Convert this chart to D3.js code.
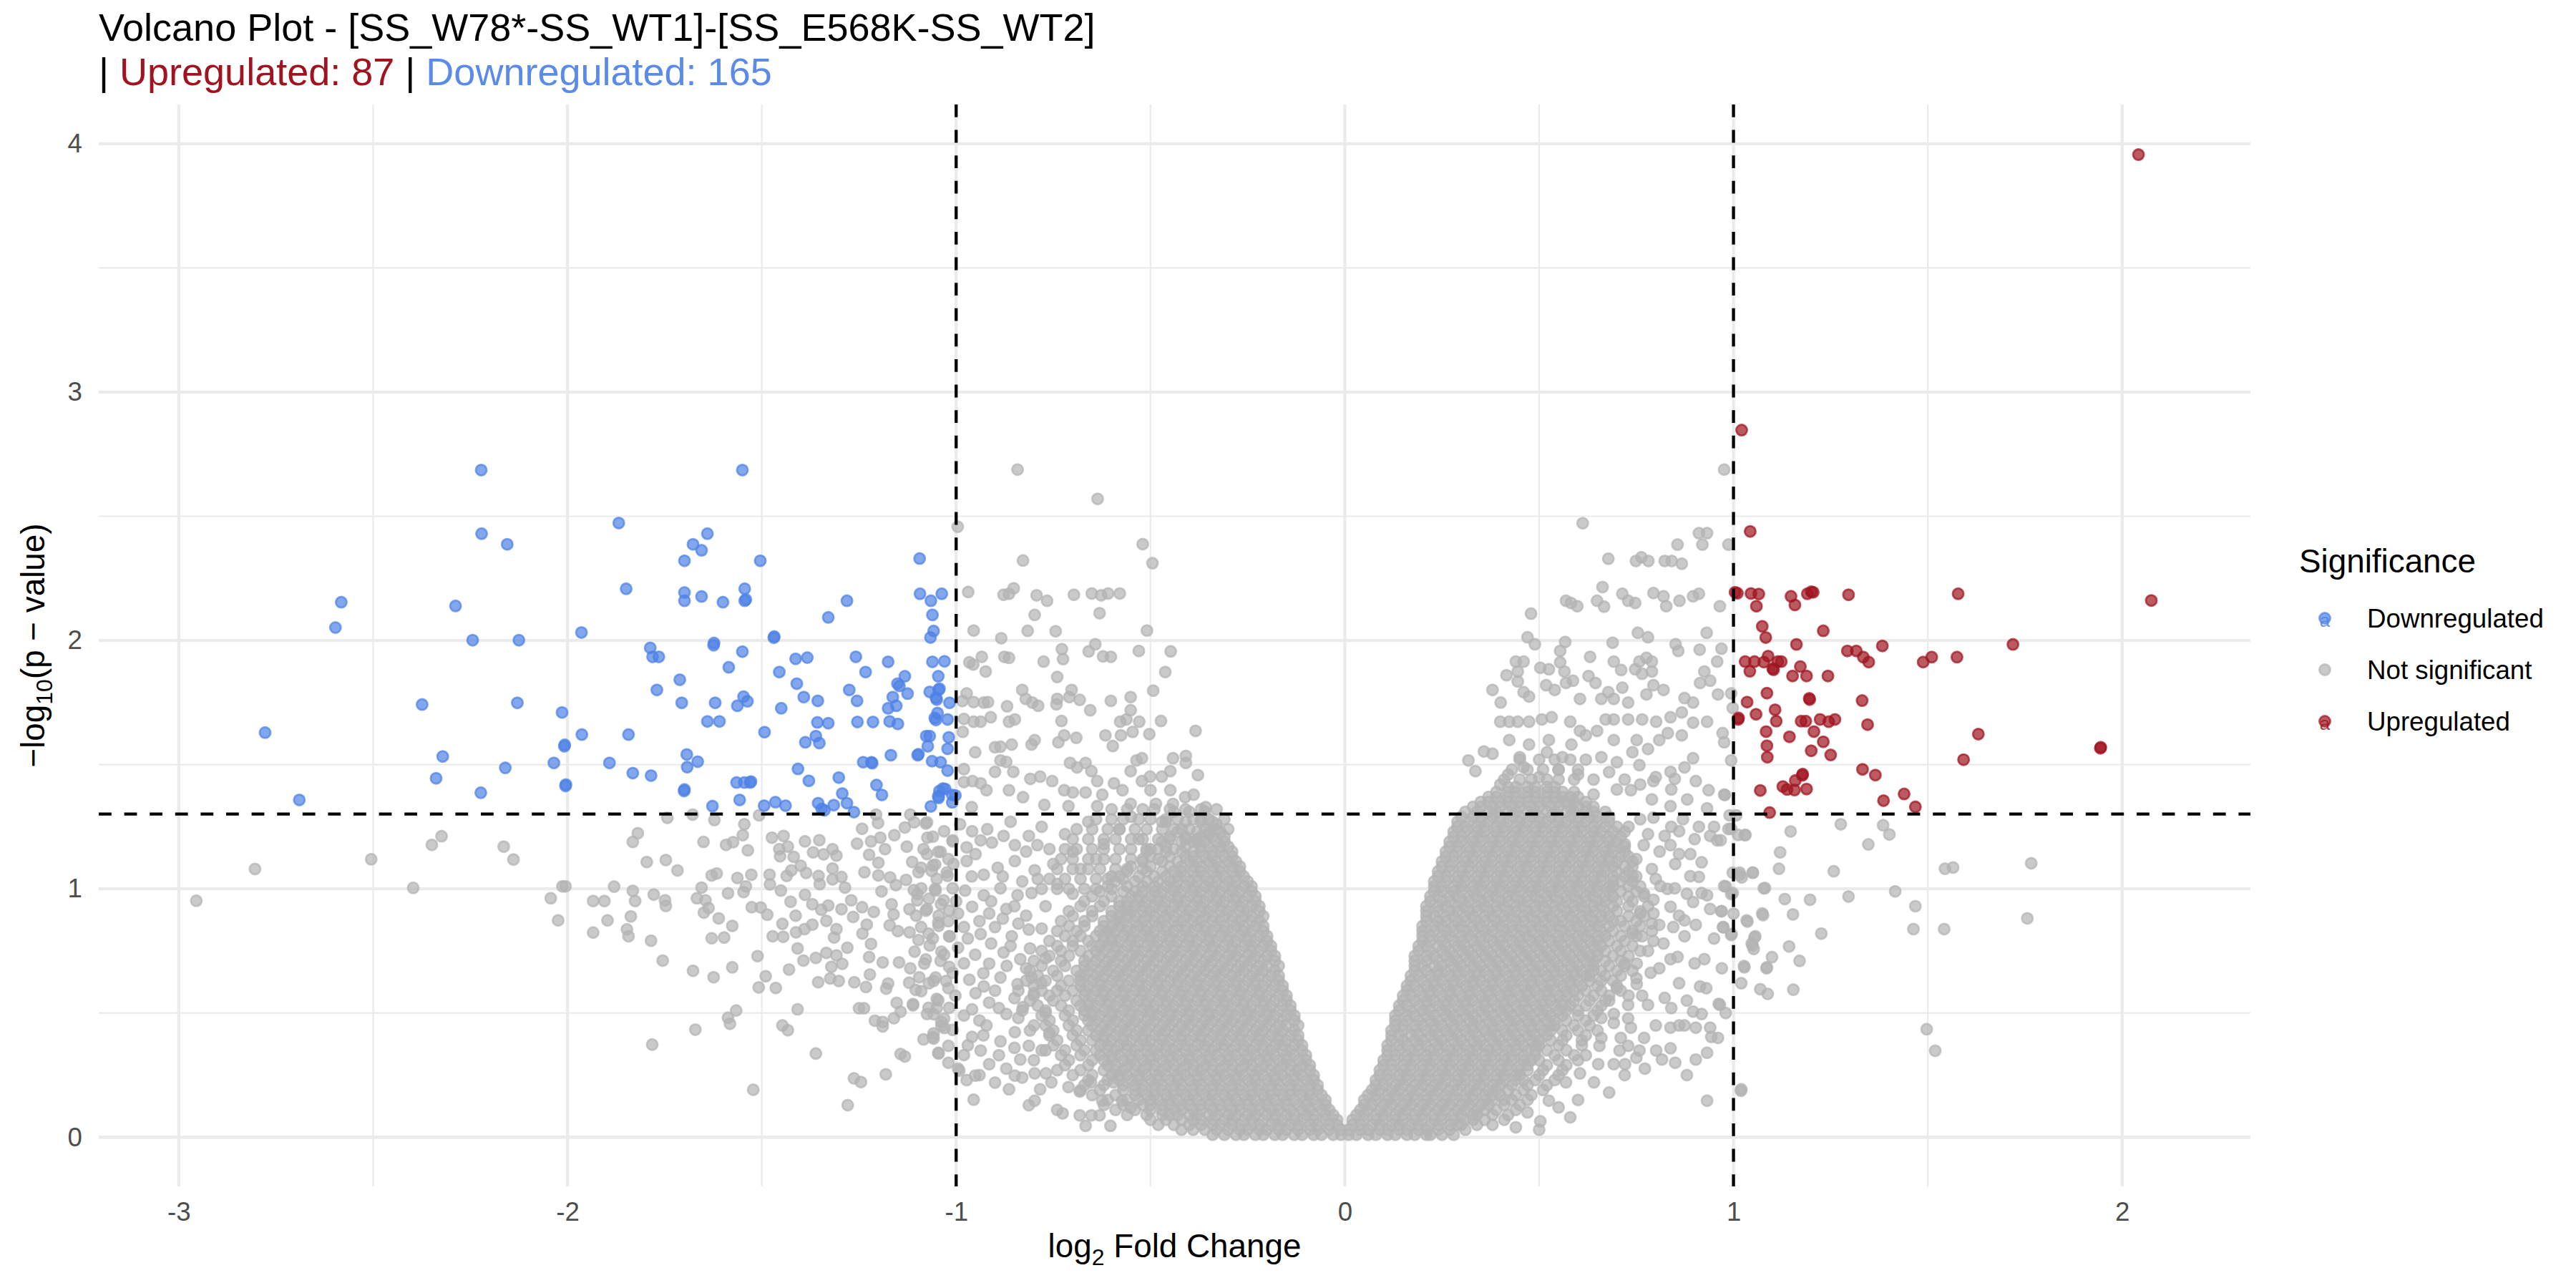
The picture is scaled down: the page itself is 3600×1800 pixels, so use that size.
<!DOCTYPE html>
<html><head><meta charset="utf-8">
<script src="https://cdn.jsdelivr.net/npm/d3@7"></script>
<style>
body{margin:0;background:#fff}
svg{display:block}
text{font-family:"Liberation Sans",Arial,Helvetica,sans-serif}
</style>
</head><body>
<svg id="chart" width="3600" height="1800"></svg>
<script>
// ---------------- DATA ----------------
const xTicks = [-3, -2, -1, 0, 1, 2];
const xTickLabels = ["-3", "-2", "-1", "0", "1", "2"];
const xMinor = [-2.5, -1.5, -0.5, 0.5, 1.5];
const yTicks = [0, 1, 2, 3, 4];
const yTickLabels = ["0", "1", "2", "3", "4"];
const yMinor = [0.5, 1.5, 2.5, 3.5];
const fcThresholds = [-1, 1];
const pThreshold = 1.30103; // -log10(0.05)
const categories = ["Downregulated", "Not significant", "Upregulated"];
const counts = {up: 87, down: 165};

// [log2FC, -log10 p]
const downregulated = [[-2.222,2.686],[-1.550,2.686],[-1.868,2.473],[-2.221,2.430],[-2.155,2.387],[-1.640,2.430],[-1.677,2.387],[-1.655,2.363],[-1.699,2.321],[-1.504,2.321],[-1.094,2.330],[-1.849,2.208],[-1.699,2.193],[-1.699,2.160],[-1.655,2.177],[-1.600,2.154],[-1.544,2.208],[-1.544,2.160],[-1.541,2.165],[-1.093,2.188],[-1.037,2.188],[-1.065,2.160],[-1.061,2.103],[-1.058,2.038],[-1.066,2.012],[-1.281,2.160],[-1.329,2.093],[-2.582,2.154],[-2.597,2.052],[-2.288,2.139],[-2.244,2.001],[-2.125,2.001],[-1.964,2.032],[-1.469,2.011],[-1.468,2.016],[-1.624,1.981],[-1.623,1.990],[-1.787,1.970],[-1.781,1.934],[-1.765,1.934],[-1.550,1.955],[-1.585,1.892],[-1.413,1.926],[-1.383,1.931],[-1.258,1.934],[-1.175,1.914],[-1.061,1.914],[-1.030,1.916],[-1.455,1.873],[-1.233,1.873],[-1.132,1.856],[-1.046,1.856],[-1.711,1.842],[-1.410,1.826],[-1.151,1.826],[-1.146,1.817],[-1.770,1.801],[-1.275,1.801],[-1.125,1.786],[-1.068,1.793],[-1.045,1.801],[-1.043,1.806],[-1.052,1.770],[-1.050,1.762],[-1.392,1.772],[-1.163,1.772],[-1.547,1.774],[-1.537,1.755],[-1.563,1.737],[-1.706,1.749],[-1.620,1.749],[-1.356,1.757],[-1.255,1.757],[-1.450,1.727],[-1.175,1.727],[-1.154,1.737],[-1.017,1.749],[-2.374,1.742],[-2.129,1.749],[-2.014,1.710],[-1.640,1.674],[-1.609,1.674],[-1.357,1.670],[-1.329,1.667],[-1.254,1.672],[-1.214,1.672],[-1.171,1.674],[-1.150,1.664],[-1.055,1.688],[-1.052,1.680],[-1.048,1.708],[-1.022,1.682],[-2.778,1.629],[-1.963,1.621],[-1.843,1.621],[-1.493,1.631],[-1.361,1.615],[-1.388,1.590],[-1.352,1.587],[-1.077,1.615],[-1.068,1.615],[-1.019,1.610],[-1.073,1.574],[-2.008,1.574],[-2.007,1.580],[-1.022,1.564],[-2.321,1.533],[-2.035,1.507],[-1.892,1.507],[-1.693,1.541],[-1.665,1.512],[-1.692,1.490],[-1.168,1.538],[-1.099,1.538],[-1.097,1.542],[-1.239,1.510],[-1.218,1.510],[-1.216,1.506],[-1.062,1.514],[-1.040,1.510],[-1.022,1.476],[-2.160,1.487],[-1.832,1.466],[-1.785,1.456],[-1.407,1.483],[-2.338,1.445],[-1.379,1.435],[-1.302,1.448],[-1.565,1.428],[-1.545,1.428],[-1.530,1.428],[-1.528,1.432],[-2.005,1.414],[-2.004,1.420],[-1.205,1.418],[-1.700,1.394],[-1.699,1.400],[-2.223,1.387],[-1.191,1.378],[-1.293,1.384],[-1.043,1.394],[-1.034,1.404],[-1.046,1.373],[-1.010,1.378],[-2.690,1.358],[-1.557,1.358],[-1.627,1.333],[-1.494,1.335],[-1.465,1.349],[-1.439,1.335],[-1.355,1.345],[-1.346,1.322],[-1.315,1.337],[-1.281,1.345],[-1.065,1.332],[-1.010,1.348],[-1.339,1.316],[-1.263,1.309],[-1.045,1.366],[-1.028,1.402],[-1.002,1.376]];

const upregulated = [[1.021,2.847],[1.043,2.439],[1.004,2.194],[1.010,2.190],[1.045,2.189],[1.065,2.187],[1.059,2.138],[1.148,2.178],[1.158,2.143],[1.190,2.188],[1.200,2.196],[1.205,2.194],[1.296,2.184],[1.578,2.188],[2.075,2.161],[1.074,2.057],[1.083,2.012],[1.231,2.039],[1.162,1.984],[1.293,1.958],[1.316,1.958],[1.334,1.933],[1.348,1.913],[1.383,1.978],[1.488,1.913],[1.510,1.933],[1.575,1.933],[1.719,1.984],[1.030,1.915],[1.054,1.915],[1.078,1.913],[1.089,1.937],[1.114,1.915],[1.123,1.915],[1.101,1.887],[1.103,1.882],[1.042,1.876],[1.172,1.895],[1.152,1.857],[1.188,1.857],[1.243,1.857],[1.086,1.788],[1.195,1.767],[1.196,1.762],[1.331,1.758],[1.035,1.752],[1.012,1.682],[1.013,1.688],[1.058,1.703],[1.107,1.721],[1.110,1.675],[1.174,1.675],[1.186,1.675],[1.223,1.682],[1.245,1.673],[1.261,1.682],[1.345,1.661],[1.084,1.633],[1.144,1.612],[1.207,1.633],[1.231,1.592],[1.630,1.623],[1.944,1.566],[1.945,1.570],[1.086,1.576],[1.200,1.556],[1.250,1.539],[1.087,1.530],[1.592,1.520],[1.332,1.481],[1.365,1.458],[1.177,1.457],[1.178,1.462],[1.159,1.436],[1.127,1.412],[1.138,1.400],[1.157,1.398],[1.188,1.402],[1.069,1.396],[1.439,1.382],[1.386,1.355],[1.468,1.330],[1.093,1.307],[2.042,3.956]];

// individually read not-significant points
const notSigSparse = [[-2.955,0.952],[-2.804,1.080],[-2.505,1.119],[-2.397,1.004],[-2.349,1.177],[-2.324,1.212],[-2.164,1.170],[-2.139,1.118],[-2.013,1.010],[-2.043,0.962],[-2.024,0.873],
[-1.832,1.189],[-1.819,1.224],[-1.796,1.108],[-1.747,1.116],[-1.717,1.074],[-1.743,1.286],[-1.678,1.299],[-1.622,1.277],[-1.650,1.189],[-1.592,1.177],[-1.574,1.188],[-1.549,1.216],[-1.545,1.260],[-1.536,1.155],[-1.507,1.296],[-2.005,1.010],[-1.934,0.951],[-1.905,0.951],[-1.880,1.009],[-1.832,0.992],[-1.826,0.951],[-1.778,0.977],[-1.749,0.954],[-1.747,0.931],[-1.897,0.873],[-1.837,0.889],[-1.847,0.837],[-1.843,0.809],[-1.934,0.824],[-1.785,0.791],[-1.755,0.711],[-1.677,0.670],[-1.624,0.644],[-1.576,0.684],[-1.511,0.729],[-1.655,1.005],[-1.667,0.962],[-1.645,0.954],[-1.637,0.923],[-1.649,0.904],[-1.611,0.881],[-1.576,0.851],[-1.629,0.801],[-1.597,0.804],[-1.629,1.054],[-1.616,1.062],[-1.563,1.044],[-1.527,1.057],[-1.587,0.982],[-1.547,0.987],[-1.541,1.010],[-1.526,0.926],[-1.503,0.925],[-1.486,0.896],[-1.566,0.510],[-1.587,0.481],[-1.582,0.457],[-1.671,0.433],[-1.782,0.373],[-1.522,0.191],[-1.490,0.648],[-1.508,0.603],[-1.464,0.601],[-1.430,0.675],[-1.408,0.515],[-1.447,0.450],[-1.433,0.431],[-1.361,0.337],[-1.263,0.237],[-1.245,0.222],[-1.181,0.253],[-1.279,0.129],[-1.143,0.335],[-1.132,0.325],[-0.992,0.268],
[-1.474,1.206],[-1.444,1.213],[-1.455,1.160],[-1.453,1.131],[-1.433,1.170],[-1.418,1.129],[-1.400,1.093],[-1.424,1.074],[-1.436,1.052],[-1.386,1.064],[-1.389,1.191],[-1.352,1.196],[-1.368,1.147],[-1.341,1.139],[-1.318,1.160],[-1.308,1.134],[-1.318,1.082],[-1.354,1.052],[-1.351,1.019],[-1.318,1.038],[-1.295,1.048],[-1.286,1.005],[-1.480,1.057],[-1.479,1.018],[-1.451,0.993],[-1.389,0.976],[-1.426,0.948],[-1.370,0.938],[-1.347,0.916],[-1.329,0.933],[-1.295,0.918],[-1.270,0.954],[-1.242,0.926],[-1.212,0.907],[-1.265,0.887],[-1.413,0.892],[-1.447,0.859],[-1.370,0.856],[-1.334,0.871],[-1.308,0.838],[-1.412,0.825],[-1.472,0.809],[-1.445,0.807],[-1.390,0.838],[-1.314,0.804],[-1.241,0.820],[-1.230,0.856],[-1.219,0.778],[-1.280,0.763],[-1.408,0.760],[-1.393,0.711],[-1.361,0.722],[-1.334,0.742],[-1.308,0.732],[-1.293,0.698],[-1.321,0.686],[-1.224,0.725],[-1.189,0.704],[-1.324,0.639],[-1.355,0.624],[-1.302,0.629],[-1.262,0.624],[-1.232,0.605],[-1.222,0.655],[-1.180,0.598],[-1.175,0.619],[-1.250,0.519],[-1.237,0.519],[-1.209,0.469],[-1.189,0.446],[-1.189,0.464],[-1.160,0.479],[-1.153,0.541],[-1.143,0.505],[-1.111,0.531],[-1.071,0.521],[-1.050,0.557],[-1.038,0.464],[-1.084,0.394],[-1.058,0.397],[-1.045,0.337],[-1.020,0.368],[-1.236,1.067],[-1.200,1.054],[-1.192,0.990],[-1.170,1.046],[-1.255,1.182],[-1.242,1.242],[-1.219,1.191],[-1.224,1.137],[-1.200,1.105],[-1.195,1.206],[-1.183,1.160],[-1.206,1.299],[-1.201,1.265],[-1.159,1.216],[-1.132,1.247],[-1.118,1.299],[-1.108,1.268],[-1.078,1.263],[-1.074,1.206],[-1.040,1.149],[-1.009,1.191],[-1.127,1.170],[-1.113,1.108],[-1.084,1.160],[-1.054,1.098],[-1.007,1.100],[-1.097,1.067],[-1.063,1.072],[-1.155,1.015],[-1.129,1.036],[-1.109,0.995],[-1.054,1.000],[-1.022,1.052],[-1.100,0.979],[-1.100,0.954],[-1.032,0.954],[-1.166,0.938],[-1.161,0.897],[-1.171,0.853],[-1.150,0.830],[-1.120,0.918],[-1.103,0.892],[-1.078,0.912],[-1.045,0.892],[-1.018,0.912],[-1.120,0.825],[-1.097,0.794],[-1.071,0.820],[-1.045,0.851],[-1.018,0.809],[-1.107,0.747],[-1.078,0.716],[-1.038,0.747],[-1.018,0.686],[-1.147,0.704],[-1.118,0.680],[-1.095,0.644],[-1.058,0.629],[-1.026,0.629],[-1.121,0.622],[-1.104,0.593],[-1.111,0.536],[-1.018,0.521],[-1.058,0.495],[-1.038,0.448],[-1.058,0.418],
[-0.842,2.688],[-0.636,2.570],[-0.996,2.458],[-0.520,2.388],[-0.495,2.311],[-0.828,2.322],[-0.969,2.195],[-0.878,2.184],[-0.852,2.210],[-0.864,2.188],[-0.793,2.182],[-0.766,2.160],[-0.697,2.184],[-0.651,2.189],[-0.627,2.182],[-0.609,2.189],[-0.579,2.189],[-0.798,2.103],[-0.631,2.110],[-0.955,2.040],[-0.816,2.039],[-0.744,2.037],[-0.509,2.040],[-0.884,2.009],[-0.642,1.985],[-0.659,1.956],[-0.728,1.965],[-0.725,1.925],[-0.622,1.936],[-0.602,1.934],[-0.530,1.958],[-0.448,1.956],[-0.462,1.873],[-0.966,1.912],[-0.956,1.903],[-0.934,1.934],[-0.924,1.875],[-0.876,1.934],[-0.864,1.930],[-0.775,1.915],[-0.740,1.853],[-0.973,1.787],[-0.984,1.756],[-0.955,1.752],[-0.929,1.750],[-0.918,1.752],[-0.869,1.735],[-0.830,1.801],[-0.821,1.765],[-0.804,1.750],[-0.789,1.737],[-0.742,1.743],[-0.740,1.765],[-0.703,1.801],[-0.709,1.772],[-0.682,1.761],[-0.655,1.719],[-0.602,1.757],[-0.551,1.772],[-0.493,1.798],[-0.980,1.684],[-0.955,1.673],[-0.937,1.673],[-0.911,1.691],[-0.864,1.673],[-0.849,1.682],[-0.729,1.676],[-0.578,1.673],[-0.562,1.682],[-0.529,1.673],[-0.551,1.719],[-0.473,1.676],[-0.983,1.632],[-0.900,1.570],[-0.951,1.550],[-0.886,1.572],[-0.857,1.581],[-0.806,1.581],[-0.798,1.599],[-0.737,1.590],[-0.691,1.608],[-0.722,1.618],[-0.616,1.618],[-0.597,1.575],[-0.576,1.618],[-0.546,1.632],[-0.503,1.623],[-0.384,1.636],[-0.442,1.526],[-0.409,1.535],[-0.409,1.507],[-0.378,1.458],[-0.449,1.474],[-0.471,1.452],[-0.536,1.517],[-0.522,1.526],[-0.551,1.474],[-0.501,1.452],[-0.980,1.482],[-0.937,1.425],[-0.886,1.517],[-0.871,1.511],[-0.900,1.471],[-0.853,1.471],[-0.809,1.443],[-0.784,1.452],[-0.753,1.434],[-0.707,1.507],[-0.689,1.489],[-0.667,1.507],[-0.652,1.474],[-0.637,1.434],[-0.722,1.397],[-0.700,1.388],[-0.667,1.388],[-0.624,1.379],[-0.594,1.425],[-0.572,1.397],[-0.522,1.434],[-0.500,1.397],[-0.449,1.397],[-0.411,1.369],[-0.389,1.379],[-0.358,1.329],[-0.980,1.430],[-0.958,1.434],[-0.922,1.397],[-0.864,1.397],[-0.828,1.369],[-0.773,1.338],[-0.711,1.333],[-0.637,1.333],[-0.551,1.342],[-0.486,1.342],[-0.442,1.342],[-0.960,1.329],
[-1.075,1.268],[-1.031,1.232],[-1.009,1.195],[-0.959,1.232],[-0.973,1.167],[-0.937,1.195],[-0.908,1.186],[-0.878,1.213],[-0.849,1.176],[-0.813,1.213],[-0.791,1.176],[-1.075,1.140],[-1.046,1.149],[-1.090,1.085],[-1.060,1.094],[-1.024,1.066],[-0.973,1.112],[-0.929,1.057],[-0.893,1.085],[-0.849,1.112],[-0.798,1.075],[-1.090,1.002],[-1.053,0.993],[-1.009,1.002],[-0.977,0.993],[-0.929,0.974],[-0.886,1.002],[-0.842,0.974],[-0.806,0.983],[-1.075,0.919],[-1.039,0.938],[-0.995,0.901],[-0.959,0.928],[-0.915,0.901],[-0.871,0.919],[-0.820,0.892],[-1.090,0.846],[-1.046,0.864],[-1.017,0.809],[-0.980,0.846],[-0.937,0.818],[-0.900,0.846],[-0.857,0.809],[-0.813,0.836],[-1.068,0.772],[-1.031,0.735],[-0.995,0.763],[-0.951,0.735],[-0.915,0.699],[-0.878,0.744],[-0.835,0.717],[-1.082,0.699],[-1.053,0.643],[-1.009,0.662],[-0.966,0.634],[-0.929,0.607],[-0.886,0.643],[-0.842,0.616],[-0.806,0.643],[-1.090,0.588],[-1.046,0.551],[-1.002,0.570],[-0.959,0.515],[-0.915,0.542],[-0.871,0.496],[-0.828,0.524],[-1.075,0.496],[-1.031,0.478],[-1.060,0.404],[-1.009,0.432],[-0.959,0.404],[-0.922,0.450],[-0.886,0.386],[-0.849,0.423],[-0.813,0.368],[-1.046,0.340],[-0.980,0.331],[-0.937,0.349],[-0.915,0.294],[-0.871,0.276],[-0.835,0.313],[-0.798,0.257],[-0.995,0.276],[-0.973,0.230],[-0.951,0.248],[-0.955,0.151],[-0.864,0.193],[-0.849,0.248],[-0.813,0.129],[-0.798,0.147],[-0.784,0.193],[-0.769,0.257],[-0.755,0.221],[-0.740,0.110],[-0.726,0.096],[-0.682,0.088],[-0.667,0.046],[-0.652,0.088],[-0.631,0.088],[-0.603,0.046],[-0.573,0.147],[-0.551,0.119],[-0.711,0.202],[-0.682,0.184],[-0.653,0.221],[-0.624,0.147],[-0.595,0.221],
[-1.06,1.21],[-0.99,1.26],[-0.92,1.24],[-0.86,1.27],[-0.82,1.15],[-0.95,1.14],[-1.02,1.12],[-0.88,1.05],[-0.83,1.03],[-0.96,1.05],[-1.05,1.04],[-0.91,0.95],[-0.85,0.93],[-1.00,0.95],[-1.07,0.96],[-0.94,0.87],[-0.88,0.88],[-0.84,0.86],[-1.02,0.87],[-1.06,0.80],[-0.97,0.80],[-0.91,0.78],[-0.86,0.77],[-0.81,0.76],[-1.04,0.71],[-0.98,0.70],[-0.93,0.66],[-0.87,0.69],[-0.82,0.68],[-1.07,0.62],[-1.02,0.60],[-0.95,0.58],[-0.90,0.59],[-0.85,0.56],[-0.80,0.58],[-1.05,0.52],[-0.98,0.49],[-0.94,0.47],[-0.89,0.52],[-0.84,0.48],[-0.80,0.45],[-1.03,0.44],[-0.97,0.37],[-0.93,0.41],[-0.89,0.33],[-0.85,0.36],[-0.80,0.31],[-1.02,0.30],[-0.94,0.25],[-0.90,0.22],[-0.83,0.24],[-0.78,0.35],[-0.76,0.42],[-0.77,0.50],[-0.78,0.62],[-0.77,0.72],[-0.78,0.84],[-0.77,0.93],[-0.79,1.04],[-0.76,1.16],
[-0.78,1.25],[-0.72,1.22],[-0.66,1.27],[-0.70,1.15],[-0.62,1.18],[-0.75,1.10],[-0.68,1.08],[-0.58,1.24],[-0.53,1.20],[-0.47,1.27],[-0.42,1.24],[-0.37,1.28],[-0.33,1.26],[-0.55,1.29],[-0.64,1.12],[-0.60,1.05],[-0.50,1.16],[-0.45,1.21],[-0.39,1.19],[-0.35,1.22],[-0.74,1.02],[-0.70,0.98],
[0.612,2.472],[0.976,2.688],[0.911,2.432],[0.932,2.432],[0.920,2.386],[0.856,2.386],[0.987,2.386],[0.678,2.329],[0.749,2.320],[0.763,2.335],[0.781,2.320],[0.823,2.320],[0.841,2.320],[0.867,2.309],[0.663,2.215],[0.569,2.160],[0.582,2.151],[0.598,2.138],[0.649,2.160],[0.667,2.136],[0.714,2.188],[0.729,2.160],[0.747,2.151],[0.794,2.191],[0.820,2.178],[0.827,2.138],[0.861,2.160],[0.896,2.178],[0.911,2.188],[0.965,2.138],[0.479,2.108],[0.470,2.013],[0.489,1.985],[0.567,1.994],[0.554,1.958],[0.689,1.991],[0.754,2.031],[0.780,2.013],[0.851,1.985],[0.858,1.958],[0.913,1.963],[0.931,2.031],[0.969,1.967],[0.631,1.934],[0.692,1.915],[0.758,1.915],[0.776,1.930],[0.790,1.915],[0.958,1.915],[0.440,1.915],[0.460,1.915],[0.416,1.860],[0.445,1.875],[0.503,1.890],[0.525,1.884],[0.554,1.912],[0.565,1.875],[0.711,1.881],[0.747,1.884],[0.765,1.866],[0.790,1.875],[0.925,1.875],[0.380,1.801],[0.401,1.750],[0.445,1.835],[0.460,1.792],[0.474,1.774],[0.518,1.820],[0.540,1.801],[0.569,1.829],[0.587,1.838],[0.605,1.765],[0.627,1.857],[0.645,1.829],[0.660,1.765],[0.678,1.792],[0.692,1.765],[0.714,1.810],[0.729,1.750],[0.776,1.783],[0.794,1.820],[0.820,1.801],[0.874,1.768],[0.896,1.750],[0.914,1.829],[0.940,1.838],[0.960,1.783],[0.994,1.787],[0.400,1.673],[0.423,1.673],[0.445,1.673],[0.474,1.673],[0.507,1.682],[0.532,1.691],[0.580,1.673],[0.605,1.636],[0.649,1.636],[0.671,1.682],[0.692,1.682],[0.729,1.682],[0.765,1.682],[0.801,1.673],[0.838,1.691],[0.867,1.710],[0.896,1.669],[0.932,1.673],[0.972,1.627],[0.998,1.728],[0.976,1.590],[0.423,1.599],[0.474,1.581],[0.525,1.599],[0.583,1.581],[0.620,1.618],[0.692,1.599],[0.751,1.599],[0.780,1.563],[0.809,1.599],[0.831,1.627],[0.867,1.618],[0.358,1.553],[0.318,1.517],[0.336,1.474],[0.380,1.544],[0.896,1.526],[0.994,1.517],
[0.42,1.46],[0.46,1.49],[0.50,1.45],[0.55,1.48],[0.60,1.46],[0.64,1.44],[0.68,1.47],[0.72,1.44],[0.76,1.42],[0.80,1.45],[0.62,1.52],[0.66,1.53],[0.70,1.51],[0.74,1.55],[0.56,1.53],[0.52,1.55],[0.45,1.53],[0.40,1.42],[0.84,1.40],[0.70,1.40],[0.64,1.38],
[0.838,1.471],[0.874,1.489],[0.849,1.443],[0.903,1.434],[0.936,1.397],[0.976,1.379],[0.758,1.498],[0.794,1.434],[0.736,1.397],[0.790,1.360],[0.838,1.333],[0.881,1.360],[0.932,1.324],[0.990,1.296],[1.012,1.217],[1.031,1.217],[0.911,1.250],[0.958,1.195],[0.940,1.213],[0.860,1.232],[0.794,1.287],[0.823,1.213],[0.769,1.176],[0.838,1.176],[0.860,1.140],[0.889,1.140],[0.918,1.107],[0.987,1.241],[0.998,1.065],[1.016,1.056],[1.049,1.065],[0.889,1.051],[0.911,1.048],[0.812,1.011],[0.849,1.002],[0.918,0.983],[0.932,0.974],[0.976,1.011],[0.998,0.983],[1.078,1.002],[0.794,0.956],[0.838,0.928],[0.896,0.947],[0.940,0.919],[0.969,0.910],[0.794,0.901],[0.860,0.892],[0.874,0.873],[0.809,0.855],[0.845,0.846],[0.903,0.855],[0.973,0.846],[0.995,0.818],[1.034,0.873],[1.074,0.901],[0.874,0.809],[0.765,0.809],[0.794,0.790],[0.838,0.717],[0.856,0.726],[0.925,0.717],[0.809,0.680],[0.751,0.699],[0.787,0.662],[1.027,0.689],[1.049,0.772],[1.056,0.809],[1.085,0.680],[0.914,0.607],[0.751,0.616],[0.765,0.570],[0.823,0.561],[0.962,0.537],[0.729,0.533],[0.780,0.533],[0.692,0.496],[0.729,0.478],[0.896,0.506],[0.918,0.496],[0.838,0.441],[0.860,0.450],[0.874,0.450],[0.903,0.441],[0.940,0.441],[0.943,0.404],[0.801,0.349],[0.838,0.358],[0.816,0.313],[0.903,0.313],[0.932,0.340],[0.729,0.368],[0.758,0.349],[0.692,0.294],[0.721,0.294],[0.772,0.276],[1.020,0.193],[0.932,0.147],[0.652,0.294],[0.641,0.221],[0.605,0.257],[0.569,0.221],[0.503,0.064],[0.525,0.147],[0.692,0.460],[0.655,0.368],[0.736,0.441],[0.707,0.349],[0.47,0.10],[0.55,0.12],[0.60,0.15],[0.62,0.33],[0.66,0.40],[0.58,0.08],[0.68,0.18],[0.72,0.25],[0.75,0.32],[0.50,0.03],[0.44,0.04],
[0.73,1.25],[0.76,1.28],[0.72,1.18],[0.75,1.12],[0.78,1.22],[0.74,1.05],[0.79,1.08],[0.81,1.15],[0.77,0.98],[0.80,1.04],[0.76,0.90],[0.79,0.86],[0.74,0.82],[0.78,0.75],[0.72,0.70],[0.75,0.64],[0.70,0.60],[0.73,0.57],[0.68,0.55],[0.71,0.40],[0.66,0.48],[0.85,1.10],[0.83,1.00],[0.88,0.98],[0.82,0.78],[0.86,0.62],[0.90,0.70],[0.95,0.80],[0.97,0.68],[0.88,0.55],[0.93,0.60],[0.84,0.52],[0.80,0.45],[0.77,0.40],[0.85,0.30],[0.88,0.25],[0.98,0.50],[1.00,0.90],[1.02,0.62],[0.96,0.40],[0.90,1.20],[0.95,1.25],[0.87,1.28],[0.84,1.25],
[0.978,1.378],[1.007,1.296],[0.994,1.242],[1.029,1.216],[0.967,1.196],[1.147,1.231],[1.276,1.260],[1.385,1.256],[1.401,1.219],[1.347,1.179],[1.120,1.147],[1.117,1.081],[1.258,1.071],[1.544,1.081],[1.565,1.086],[1.766,1.103],[1.016,1.065],[1.050,1.065],[1.021,1.046],[0.980,1.010],[0.994,0.979],[1.081,1.003],[1.132,0.959],[1.197,0.956],[1.296,0.969],[1.416,0.990],[1.468,0.930],[0.969,0.910],[1.076,0.894],[1.153,0.897],[1.036,0.868],[0.974,0.845],[0.994,0.814],[1.226,0.820],[1.463,0.838],[1.542,0.838],[1.756,0.881],[1.054,0.804],[1.047,0.780],[1.052,0.758],[1.143,0.768],[1.099,0.725],[1.170,0.710],[1.028,0.684],[1.086,0.684],[1.069,0.596],[1.088,0.577],[1.154,0.594],[0.965,0.533],[1.497,0.435],[1.519,0.348],[1.019,0.187]];

// dense core of not-significant points, read row by row.
// each row: [ -log10p x100, then log2FC x100 values ]
const notSigCoreLeft = [
[1,-1,-3,-6,-8,-11,-13,-16,-18,-21,-23,-26,-28,-31,-34],
[3,-1,-4,-7,-9,-12,-15,-17,-20,-22,-25,-27,-30,-33,-36,-39,-42],
[5,-2,-4,-7,-9,-12,-14,-17,-19,-22,-24,-27,-29,-32,-34,-37,-40,-44,-48],
[7,-2,-5,-8,-11,-13,-16,-18,-21,-24,-26,-29,-31,-34,-37,-39,-42,-46,-50],
[9,-3,-5,-8,-10,-13,-15,-18,-20,-23,-25,-28,-30,-33,-35,-38,-40,-43,-45,-47,-51,-56],
[11,-4,-6,-9,-11,-14,-17,-19,-22,-24,-27,-29,-32,-34,-37,-39,-42,-44,-47,-50,-54,-59],
[13,-5,-7,-10,-12,-15,-17,-20,-22,-25,-27,-30,-32,-35,-37,-40,-42,-45,-47,-50,-52,-57,-62],
[15,-5,-8,-10,-13,-15,-18,-20,-23,-25,-28,-30,-33,-35,-38,-40,-43,-45,-48,-50,-53,-56,-61],
[17,-6,-9,-11,-14,-16,-19,-21,-24,-26,-29,-31,-34,-36,-39,-41,-44,-46,-49,-51,-54,-59,-65],
[19,-7,-9,-12,-14,-17,-19,-22,-24,-27,-29,-32,-34,-37,-39,-42,-44,-47,-49,-52,-54,-57,-63,-68],
[21,-7,-9,-12,-14,-17,-19,-22,-24,-27,-29,-32,-34,-37,-39,-42,-44,-47,-49,-52,-54,-57,-62,-67],
[23,-8,-10,-13,-15,-18,-20,-23,-25,-28,-30,-33,-35,-38,-40,-43,-45,-48,-50,-53,-55,-58,-61,-66],
[25,-8,-11,-13,-16,-18,-21,-23,-26,-28,-31,-33,-36,-38,-41,-43,-46,-48,-51,-53,-56,-58,-60,-65,-70],
[27,-9,-12,-14,-17,-19,-22,-24,-27,-29,-32,-34,-37,-39,-42,-44,-47,-49,-52,-54,-57,-59,-62,-68,-74],
[29,-9,-11,-14,-16,-19,-21,-24,-26,-29,-31,-34,-36,-39,-41,-44,-46,-49,-51,-54,-56,-59,-61,-66,-72],
[31,-10,-12,-15,-17,-20,-22,-25,-27,-30,-32,-35,-37,-40,-42,-45,-47,-50,-52,-55,-57,-60,-62,-65,-71],
[33,-10,-13,-15,-18,-20,-23,-25,-28,-30,-33,-35,-38,-40,-43,-45,-48,-50,-53,-55,-58,-60,-63,-68,-73],
[35,-11,-14,-16,-19,-21,-24,-26,-29,-31,-34,-36,-39,-41,-44,-46,-49,-51,-54,-56,-59,-61,-64,-67,-72,-77],
[37,-11,-13,-16,-18,-21,-23,-26,-28,-31,-33,-36,-38,-41,-43,-46,-48,-51,-53,-56,-58,-61,-63,-69,-75],
[39,-12,-15,-17,-20,-22,-25,-27,-30,-32,-35,-37,-40,-42,-45,-47,-50,-52,-55,-57,-60,-62,-65,-68,-74],
[41,-12,-14,-17,-19,-22,-24,-27,-29,-32,-34,-37,-39,-42,-44,-47,-49,-52,-54,-57,-59,-62,-64,-70,-76],
[43,-13,-16,-18,-21,-23,-26,-28,-31,-33,-36,-38,-41,-43,-46,-48,-51,-53,-56,-58,-61,-63,-66,-69,-75,-81],
[45,-12,-15,-17,-20,-22,-25,-27,-30,-32,-35,-37,-40,-42,-45,-47,-50,-52,-55,-57,-60,-62,-65,-71,-77],
[47,-13,-16,-19,-21,-24,-26,-29,-31,-34,-36,-39,-41,-44,-46,-49,-51,-54,-56,-59,-61,-64,-66,-70,-76],
[49,-13,-15,-18,-20,-23,-25,-28,-30,-33,-35,-38,-40,-43,-45,-48,-50,-53,-55,-58,-60,-63,-65,-67,-72,-78],
[51,-14,-17,-20,-22,-25,-27,-30,-32,-35,-37,-40,-42,-45,-47,-50,-52,-55,-57,-60,-62,-65,-67,-71,-77,-83],
[53,-14,-16,-19,-21,-24,-26,-29,-31,-34,-36,-39,-41,-44,-46,-49,-51,-54,-56,-59,-61,-64,-66,-68,-73,-79],
[55,-15,-18,-21,-23,-26,-28,-31,-33,-36,-38,-41,-43,-46,-48,-51,-53,-56,-58,-61,-63,-66,-69,-75,-81],
[57,-15,-17,-20,-22,-25,-27,-30,-32,-35,-37,-40,-42,-45,-47,-50,-52,-55,-57,-60,-62,-65,-67,-72,-76,-80],
[59,-16,-19,-22,-24,-27,-29,-32,-34,-37,-39,-42,-44,-47,-49,-52,-54,-57,-59,-62,-64,-67,-70,-74,-78,-84],
[61,-16,-18,-21,-23,-26,-28,-31,-33,-36,-38,-41,-43,-46,-48,-51,-53,-56,-58,-61,-63,-66,-68,-73,-80],
[63,-17,-20,-23,-25,-28,-30,-33,-35,-38,-40,-43,-45,-48,-50,-53,-55,-58,-60,-63,-65,-68,-71,-77,-82],
[65,-17,-19,-22,-24,-27,-29,-32,-34,-37,-39,-42,-44,-47,-49,-52,-54,-57,-59,-62,-64,-67,-68,-74,-79],
[67,-18,-21,-23,-26,-28,-31,-33,-36,-38,-41,-43,-46,-48,-51,-53,-56,-58,-61,-63,-66,-69,-75,-81],
[69,-17,-20,-22,-25,-27,-30,-32,-35,-37,-40,-42,-45,-47,-50,-52,-55,-57,-60,-62,-65,-67,-72,-78],
[71,-18,-21,-24,-26,-29,-31,-34,-36,-39,-41,-44,-46,-49,-51,-54,-56,-59,-61,-64,-67,-73,-80],
[73,-18,-20,-23,-25,-28,-30,-33,-35,-38,-40,-43,-45,-48,-50,-53,-55,-58,-60,-63,-66,-71,-76],
[75,-19,-22,-24,-27,-29,-32,-34,-37,-39,-42,-44,-47,-49,-52,-54,-57,-59,-62,-64,-68,-73,-78],
[77,-19,-21,-24,-26,-29,-31,-34,-36,-39,-41,-44,-46,-49,-51,-54,-56,-59,-61,-63,-65,-70,-74],
[79,-20,-23,-25,-28,-30,-33,-35,-38,-40,-43,-45,-48,-50,-53,-55,-58,-60,-62,-66,-70,-76],
[81,-20,-22,-25,-27,-30,-32,-35,-37,-40,-42,-45,-47,-50,-52,-55,-57,-60,-62,-64,-68,-72],
[83,-21,-24,-26,-29,-31,-34,-36,-39,-41,-44,-46,-49,-51,-54,-56,-59,-61,-63,-69,-74],
[85,-21,-23,-26,-28,-31,-33,-36,-38,-41,-43,-46,-48,-51,-53,-56,-58,-60,-62,-67,-71],
[87,-22,-24,-27,-29,-32,-34,-37,-39,-42,-44,-47,-49,-52,-54,-57,-59,-62,-67,-73],
[89,-21,-24,-26,-29,-31,-34,-36,-39,-41,-44,-46,-49,-51,-54,-56,-58,-60,-65,-70],
[91,-22,-25,-27,-30,-32,-35,-37,-40,-42,-45,-47,-50,-52,-55,-57,-60,-65,-71],
[93,-22,-24,-27,-29,-32,-34,-37,-39,-42,-44,-47,-49,-52,-54,-56,-58,-63,-68],
[95,-23,-26,-28,-31,-33,-36,-38,-41,-43,-46,-48,-51,-53,-56,-58,-62,-67],
[97,-23,-25,-28,-30,-33,-35,-38,-40,-43,-45,-48,-50,-53,-55,-60,-65],
[99,-24,-27,-29,-32,-34,-37,-39,-42,-44,-47,-49,-52,-54,-57,-63],
[100,-60,-64,-67,-71,-74,-78],
[101,-24,-26,-29,-31,-34,-36,-39,-41,-44,-46,-49,-52,-56,-61],
[103,-25,-28,-30,-33,-35,-38,-40,-43,-45,-48,-51,-54,-59],
[104,-57,-61,-64,-68,-72,-76],
[105,-26,-28,-31,-33,-36,-38,-41,-43,-46,-49,-53,-58],
[107,-27,-29,-32,-34,-37,-39,-42,-44,-47,-51,-56],
[108,-52,-56,-59,-63,-66,-70,-74],
[109,-27,-29,-32,-34,-37,-39,-42,-45,-50,-55],
[111,-28,-30,-33,-35,-38,-40,-43,-47,-52],
[112,-48,-52,-55,-59,-62,-66,-70,-73],
[113,-29,-31,-34,-36,-39,-41,-45,-50],
[115,-29,-32,-34,-37,-39,-42,-46,-51],
[116,-44,-48,-51,-55,-58,-62,-65,-69,-72],
[117,-30,-32,-35,-37,-41,-46],
[119,-31,-33,-36,-38,-42,-47],
[120,-38,-41,-45,-48,-52,-55,-59,-62,-66,-70],
[121,-31,-34,-37,-41],
[123,-32,-35,-38,-43],
[124,-30,-33,-36,-40,-44,-47,-51,-54,-58,-61,-65,-69],
[127,-34,-37,-41,-46],
[128,-31,-35,-39,-43,-46,-50,-53,-57,-60,-64],
[131,-36,-40,-44],
[132,-33,-37,-41,-45,-49,-52,-56,-60]];

const notSigCoreRight = [
[1,1,3,6,8,11,13,16,18,21,22,25,28],
[3,1,4,6,9,11,14,16,19,21,24,27,31],
[5,2,4,7,9,12,14,17,19,22,24,27,29,30,34,38],
[7,2,5,8,10,13,15,18,20,23,25,28,31,33,36,41],
[9,3,5,8,10,13,15,18,20,23,25,28,30,33,34,38,42],
[11,4,6,9,11,14,16,19,21,24,26,29,31,34,36,39,44],
[13,5,7,10,12,15,17,20,22,25,27,30,32,35,37,41,45],
[15,5,8,11,13,16,18,21,23,26,28,31,33,36,38,41,43,47],
[17,6,8,11,13,16,18,21,23,26,28,31,33,36,38,40,44,48],
[19,7,9,12,14,17,19,22,24,27,29,32,34,37,39,42,46,51],
[21,8,10,13,15,18,20,23,25,28,30,33,35,38,40,43,47,52],
[23,8,11,14,16,19,21,24,26,29,31,34,36,39,41,44,46,49,54],
[25,9,11,14,16,19,21,24,26,29,31,34,36,39,41,44,45,50,55],
[27,9,12,15,17,20,22,25,27,30,32,35,37,40,42,45,47,51,56],
[29,10,12,15,17,20,22,25,27,30,32,35,37,40,42,45,47,52,57],
[31,10,13,16,18,21,23,26,28,31,33,36,38,41,43,46,48,50,55,60],
[33,11,13,16,18,21,23,26,28,31,33,36,38,41,43,46,49,54,59],
[35,11,14,17,19,22,24,27,29,32,34,37,39,42,44,47,49,52,57],
[37,11,14,16,19,21,24,26,29,31,34,36,39,41,44,46,49,50,55,61],
[39,12,15,18,20,23,25,28,30,33,35,38,40,43,45,48,50,53,56,61],
[41,12,14,17,19,22,24,27,29,32,34,37,39,42,44,47,49,52,57,62],
[43,12,15,18,21,23,26,28,31,33,36,38,41,43,46,48,51,53,56,60,65],
[45,13,15,18,20,23,25,28,30,33,35,38,40,43,45,48,50,53,54,59,63],
[47,13,16,19,22,24,27,29,32,34,37,39,42,44,47,49,52,54,57,62],
[49,13,16,18,21,23,26,28,31,33,36,38,41,43,46,48,51,53,56,60,64],
[51,14,17,20,22,25,27,30,32,35,37,40,42,45,47,50,52,55,57,60,65],
[53,14,16,19,21,24,26,29,31,34,36,39,41,44,46,49,51,54,56,58,62,66],
[55,15,18,21,23,26,28,31,33,36,38,41,43,46,48,51,53,56,59,63,67],
[57,15,17,20,22,25,27,30,32,35,37,40,42,45,47,50,52,55,57,60,64,68],
[59,16,19,22,24,27,29,32,34,37,39,42,44,47,49,52,54,57,59,62,66,71],
[61,16,18,21,23,26,28,31,33,36,38,41,43,46,48,51,53,56,58,61,65,70],
[63,17,20,23,25,28,30,33,35,38,40,43,45,48,50,53,55,58,60,63,66,69],
[65,17,19,22,24,27,29,32,34,37,39,42,44,47,49,52,54,57,59,62,63,67,71],
[67,18,21,24,26,29,31,34,36,39,41,44,46,49,51,54,56,59,61,64,66,70,74],
[69,18,20,23,25,28,30,33,35,38,40,43,45,48,50,53,55,58,60,63,64,68,72],
[71,18,21,24,27,29,32,34,37,39,42,44,47,49,52,54,57,59,62,64,67,71],
[73,18,21,23,26,28,31,33,36,38,41,43,46,48,51,53,56,58,61,63,65,69,73],
[75,19,22,25,27,30,32,35,37,40,42,45,47,50,52,55,57,60,62,65,67,71,76],
[77,19,21,24,26,29,31,34,36,39,41,44,46,49,51,54,56,59,61,64,66,70,74],
[79,20,22,25,28,30,33,35,38,40,43,45,48,50,53,55,58,60,63,65,68,72],
[81,20,22,25,27,30,32,35,37,40,42,45,47,50,52,55,57,60,62,65,67,71,75],
[83,20,23,26,28,31,33,36,38,41,43,46,48,51,53,56,58,61,63,66,69,74,79],
[85,20,23,25,28,30,33,35,38,40,43,45,48,50,53,55,58,60,63,65,68,72,76],
[87,21,24,26,29,31,34,36,39,41,44,46,49,51,54,56,59,61,64,66,69,71,75],
[89,21,23,26,28,31,33,36,38,41,43,46,48,51,53,56,58,61,63,66,68,73,77],
[91,21,24,27,29,32,34,37,39,42,44,47,49,52,54,57,59,62,64,67,70,76],
[93,21,24,26,29,31,34,36,39,41,44,46,49,51,54,56,59,61,64,66,69,73,78],
[95,22,25,27,30,32,35,37,40,42,45,47,50,52,55,57,60,62,65,67,70,74],
[97,22,24,27,29,32,34,37,39,42,44,47,49,52,54,57,59,62,64,67,69,73,77],
[99,23,25,28,30,33,35,38,40,43,45,48,50,53,55,58,60,63,65,68,71,75],
[101,23,25,28,30,33,35,38,40,43,45,48,50,53,55,58,60,63,65,68,69,73,76],
[103,23,26,29,31,34,36,39,41,44,46,49,51,54,56,59,61,64,66,69,71,74],
[105,24,26,29,31,34,36,39,41,44,46,49,51,54,56,59,61,64,66,69,72,75],
[107,24,27,30,32,35,37,40,42,45,47,50,52,55,57,60,62,65,67,70,73],
[109,25,27,30,32,35,37,40,42,45,47,50,52,55,57,60,62,65,67,69,72,74],
[111,25,28,31,33,36,38,41,43,46,48,51,53,56,58,61,63,66,68,70,74],
[113,26,28,31,33,36,38,41,43,46,48,51,53,56,58,61,63,66,68,71,73],
[115,26,29,32,34,37,39,42,44,47,49,52,54,57,59,62,64,67,69,72],
[117,27,29,32,34,37,39,42,44,47,49,52,54,57,59,62,64,67,69,72],
[119,27,30,33,35,38,40,43,45,48,50,53,55,58,60,63,65,68,70],
[121,28,30,33,35,38,40,43,45,48,50,53,55,58,60,63,65,68,71],
[123,28,31,34,36,39,41,44,46,49,51,54,56,59,61,64,66,69,72],
[125,29,31,34,36,39,41,44,46,49,51,54,56,59,61,64,67,70],
[127,29,32,35,37,40,42,45,47,50,52,55,57,60,62,65,68],
[129,30,33,35,38,40,43,45,48,50,53,55,58,60,63,65,68],
[131,31,34,37,39,42,44,47,49,52,54,57,59,62,64,67],
[133,33,35,38,40,43,45,48,50,53,55,58,60,62,64],
[135,35,37,40,42,45,47,50,52,55,57,59,62],
[137,37,39,42,44,47,49,52,54,56,58,60],
[139,39,42,44,47,49,52,54,56,59],
[141,42,44,47,49,52,54],
[144,41,45,48,52,55,59],
[148,43,47,51,55,60],
[152,45,50,54,58]];

// ---------------- RENDER ----------------
const colors = {"Downregulated": "#4F82E6", "Not significant": "#B3B3B3", "Upregulated": "#A0141F"};
const titleColors = {up: "#A0141F", down: "#5A8BEA"};
const panel = {left: 138, right: 3145, top: 146, bottom: 1658};
const xDomain = [-3.206, 2.33], yDomain = [-0.198, 4.158];

const x = d3.scaleLinear().domain(xDomain).range([panel.left, panel.right]);
const y = d3.scaleLinear().domain(yDomain).range([panel.bottom, panel.top]);
const svg = d3.select("#chart");
svg.append("rect").attr("width", 3600).attr("height", 1800).attr("fill", "#fff");

// grid
const grid = svg.append("g");
grid.selectAll(".vminor").data(xMinor).join("line")
  .attr("x1", d => x(d)).attr("x2", d => x(d)).attr("y1", panel.top).attr("y2", panel.bottom)
  .attr("stroke", "#EBEBEB").attr("stroke-width", 2.2);
grid.selectAll(".hminor").data(yMinor).join("line")
  .attr("y1", d => y(d)).attr("y2", d => y(d)).attr("x1", panel.left).attr("x2", panel.right)
  .attr("stroke", "#EBEBEB").attr("stroke-width", 2.2);
grid.selectAll(".vmajor").data(xTicks).join("line")
  .attr("x1", d => x(d)).attr("x2", d => x(d)).attr("y1", panel.top).attr("y2", panel.bottom)
  .attr("stroke", "#EBEBEB").attr("stroke-width", 4.3);
grid.selectAll(".hmajor").data(yTicks).join("line")
  .attr("y1", d => y(d)).attr("y2", d => y(d)).attr("x1", panel.left).attr("x2", panel.right)
  .attr("stroke", "#EBEBEB").attr("stroke-width", 4.3);

// points
const rowsToPts = rows => rows.flatMap(r => r.slice(1).map(v => [v / 100, r[0] / 100]));
const grey = notSigSparse.concat(rowsToPts(notSigCoreLeft), rowsToPts(notSigCoreRight));
function drawPts(data, color) {
  svg.append("g").selectAll("circle").data(data).join("circle")
    .attr("cx", d => x(d[0])).attr("cy", d => y(d[1])).attr("r", 7.6)
    .attr("fill", color).attr("fill-opacity", 0.7)
    .attr("stroke", color).attr("stroke-opacity", 0.7).attr("stroke-width", 2.8);
}
drawPts(grey, colors["Not significant"]);
drawPts(downregulated, colors["Downregulated"]);
drawPts(upregulated, colors["Upregulated"]);

// threshold lines
const dash = "17.8 17.8";
svg.selectAll(".vth").data(fcThresholds).join("line")
  .attr("x1", d => x(d)).attr("x2", d => x(d)).attr("y1", panel.top).attr("y2", panel.bottom)
  .attr("stroke", "#000").attr("stroke-width", 4.3).attr("stroke-dasharray", dash);
svg.append("line").attr("x1", panel.left).attr("x2", panel.right)
  .attr("y1", y(pThreshold)).attr("y2", y(pThreshold))
  .attr("stroke", "#000").attr("stroke-width", 4.3).attr("stroke-dasharray", dash);

// axes (labels only, as theme_minimal)
const xAxis = d3.axisBottom(x).tickValues(xTicks).tickFormat((d, i) => xTickLabels[i]).tickSize(0).tickPadding(22);
const gx = svg.append("g").attr("transform", `translate(0,${panel.bottom})`).call(xAxis);
const yAxis = d3.axisLeft(y).tickValues(yTicks).tickFormat((d, i) => yTickLabels[i]).tickSize(0).tickPadding(23);
const gy = svg.append("g").attr("transform", `translate(${panel.left},0)`).call(yAxis);
[gx, gy].forEach(g => {
  g.select(".domain").remove();
  g.selectAll("text").attr("fill", "#4D4D4D").style("font-size", "36.7px")
    .style("font-family", '"Liberation Sans",Arial,sans-serif');
});

// axis titles
const xt = svg.append("text").attr("x", (panel.left + panel.right) / 2).attr("y", 1757)
  .attr("text-anchor", "middle").style("font-size", "45.8px").attr("fill", "#000");
xt.append("tspan").text("log");
xt.append("tspan").text("2").style("font-size", "32px").attr("dy", 11);
xt.append("tspan").text(" Fold Change").attr("dy", -11);

const yt = svg.append("text").attr("transform", `translate(62,${(panel.top + panel.bottom) / 2}) rotate(-90)`)
  .attr("text-anchor", "middle").style("font-size", "45.8px").attr("fill", "#000");
yt.append("tspan").text("\u2212log");
yt.append("tspan").text("10").style("font-size", "32px").attr("dy", 11);
yt.append("tspan").text("(p \u2212 value)").attr("dy", -11);

// title: two lines, spaced so their boxes do not collide
const tt = svg.append("text").style("font-size", "54px").attr("fill", "#000");
tt.append("tspan").attr("x", 138).attr("y", 57).text("Volcano Plot - [SS_W78*-SS_WT1]-[SS_E568K-SS_WT2]");
const t2 = svg.append("text").attr("x", 138).attr("y", 119).style("font-size", "54px").attr("fill", "#000");
t2.append("tspan").text("| ");
t2.append("tspan").attr("fill", titleColors.up).text("Upregulated: " + counts.up);
t2.append("tspan").text(" | ");
t2.append("tspan").attr("fill", titleColors.down).text("Downregulated: " + counts.down);

// legend
const lg = svg.append("g");
lg.append("text").attr("x", 3213).attr("y", 800).style("font-size", "45.8px").attr("fill", "#000").text("Significance");
const keyY = [864, 936, 1008];
categories.forEach((c, i) => {
  const cy = keyY[i], cx = 3249, col = colors[c];
  lg.append("circle").attr("cx", cx).attr("cy", cy).attr("r", 7.6)
    .attr("fill", col).attr("fill-opacity", 0.7).attr("stroke", col).attr("stroke-opacity", 0.7).attr("stroke-width", 2.8);
  if (c !== "Not significant") {
    lg.append("text").attr("x", cx).attr("y", cy + 12).attr("text-anchor", "middle")
      .style("font-size", "26px").attr("fill", col).attr("fill-opacity", 0.85).text("a");
  }
  lg.append("text").attr("x", 3308).attr("y", cy + 13).style("font-size", "36.7px").attr("fill", "#000").text(c);
});
</script>
</body></html>
